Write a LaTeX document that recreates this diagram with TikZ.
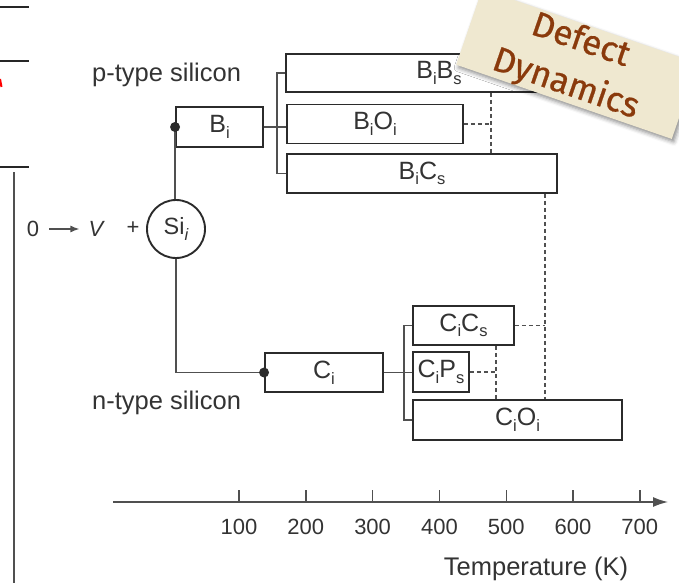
\documentclass[tikz,border=0pt]{standalone}
\usepackage{fontspec}
\setmainfont{Liberation Sans}
\newfontfamily\notefont[FakeBold=0.6]{Fira Sans}
\usetikzlibrary{arrows.meta,shadows.blur}
\definecolor{boxline}{HTML}{2B2B2B}
\definecolor{connc}{HTML}{505050}
\definecolor{notebg}{HTML}{EFE8D0}
\definecolor{notetext}{HTML}{8A3A0C}
\newcommand\sbs[1]{\raisebox{-0.42ex}{\fontsize{16.5}{16.5}\selectfont #1}}
\begin{document}
\begin{tikzpicture}[x=1pt,y=-1pt,
  box/.style={draw=boxline, line width=1.9pt, fill=white, inner sep=0pt, text=black!80,
    font=\fontsize{25}{25}\selectfont},
  conn/.style={draw=connc, line width=1.4pt},
  dsh/.style={draw=connc, line width=1.3pt, dash pattern=on 4pt off 3pt},
  lbl/.style={font=\fontsize{25.5}{26}\selectfont, text=black!80, anchor=base west, inner sep=0pt},
  tick/.style={font=\fontsize{22}{22}\selectfont, text=black!80, anchor=base, inner sep=0pt},
]
\useasboundingbox (0,0) rectangle (679,583);
\clip (0,0) rectangle (679,583);

% left page fragments
\draw[line width=2pt, black!85] (0,7.5) -- (29,7.5);
\draw[line width=2pt, black!85] (0,61) -- (29,61);
\draw[line width=2pt, black!85] (0,167) -- (29,167);
\draw[line width=1.3pt, connc] (14,172) -- (14,583);
\draw[red, line width=2pt] (0,79) -- (1.5,87);

% boxes
\node[box, minimum width=87pt, minimum height=40pt] (Bi) at (219.5,127) {B\sbs{i}};
\node[box, minimum width=306pt, minimum height=38pt] (BiBs) at (439,73) {B\sbs{i}B\sbs{s}};
\node[box, minimum width=176pt, minimum height=39pt] (BiOi) at (375,124) {B\sbs{i}O\sbs{i}};
\node[box, minimum width=270pt, minimum height=39pt] (BiCs) at (422,173.5) {B\sbs{i}C\sbs{s}};
\node[circle, draw=boxline, line width=1.9pt, minimum size=58pt, inner sep=0pt, text=black!80,
  font=\fontsize{23.5}{23.5}\selectfont] (Si) at (176,229) {Si\sbs{\itshape i}};
\node[box, minimum width=118pt, minimum height=39pt] (Ci) at (324,372.5) {C\sbs{i}};
\node[box, minimum width=101pt, minimum height=39pt] (CiCs) at (463.5,325.5) {C\sbs{i}C\sbs{s}};
\node[box, minimum width=56pt, minimum height=40pt] (CiPs) at (441,372) {C\sbs{i}P\sbs{s}};
\node[box, minimum width=209pt, minimum height=40pt] (CiOi) at (517.5,420) {C\sbs{i}O\sbs{i}};

% solid connectors
\coordinate (jB1) at (277,73);
\coordinate (jB2) at (277,173.5);
\draw[conn] (BiBs.west) -- (jB1) -- (jB2) -- (BiCs.west);
\draw[conn] (Bi.east) -- (Bi.east -| BiOi.west);
\draw[conn] (Bi.west) -- (Bi.west |- Si.north);
\draw[conn] (Si.south) -- (Si.south |- Ci.west) -- (Ci.west);
\fill[boxline] (Bi.west) circle (5pt);
\fill[boxline] (Ci.west) circle (5pt);
\coordinate (jC1) at (404,325.5);
\coordinate (jC2) at (404,420);
\draw[conn] (CiCs.west) -- (jC1) -- (jC2) -- (CiOi.west);
\draw[conn] (Ci.east) -- (Ci.east -| CiPs.west);

% dashed connectors
\coordinate (dB) at (491,124);
\draw[dsh] (BiOi.east) -- (dB);
\draw[dsh] (BiBs.south -| dB) -- (BiCs.north -| dB);
\coordinate (dC) at (545,325.5);
\draw[dsh] (CiCs.east) -- (dC);
\draw[dsh] (BiCs.south -| dC) -- (CiOi.north -| dC);
\coordinate (dP) at (496,372);
\draw[dsh] (CiPs.east) -- (dP);
\draw[dsh] (CiCs.south -| dP) -- (CiOi.north -| dP);

% side labels
\node[lbl] (pt) at (92,82) {p-type silicon};
\node[lbl] (nt) at (92,409) {n-type silicon};
\node[font=\fontsize{22}{22}\selectfont, text=black!80, inner sep=0pt] (zero) at (33,229) {0};
\node[font=\fontsize{22}{22}\selectfont\itshape, text=black!80, inner sep=0pt] (V) at (96,229) {V};
\node[font=\fontsize{22}{22}\selectfont, text=black!80, inner sep=0pt] (plus) at (133,228) {+};
\draw[conn, shorten <=10pt, shorten >=9pt, -{Latex[length=9pt,width=7pt]}] (zero.east) -- (V.west);

% temperature axis
\coordinate (ax0) at (113,502);
\coordinate (ax1) at (668,502);
\draw[conn, -{Latex[length=15pt,width=10pt]}] (ax0) -- (ax1);
\foreach \k [count=\i] in {100,200,300,400,500,600,700} {
  \pgfmathsetmacro\xx{239+66.8*(\i-1)}
  \draw[conn] (\xx,490) -- (\xx,502);
  \node[tick] (t\i) at (\xx,534.5) {\k};
}
\node[font=\fontsize{25.5}{26}\selectfont, text=black!80, anchor=base, inner sep=0pt] (temp) at (536,575) {Temperature (K)};

% sticky note
\begin{scope}[shift={(577,64)}, rotate=-19]
  \fill[notebg, blur shadow={shadow xshift=2pt, shadow yshift=-3pt, shadow blur radius=4pt, shadow opacity=45}]
    (-114,-40) rectangle (114,40);
\end{scope}
\node[rotate=-19, text=notetext, font=\notefont\fontsize{35}{46}\selectfont, align=center] (note) at (573,63) {Defect\\Dynamics};
\end{tikzpicture}
\end{document}
